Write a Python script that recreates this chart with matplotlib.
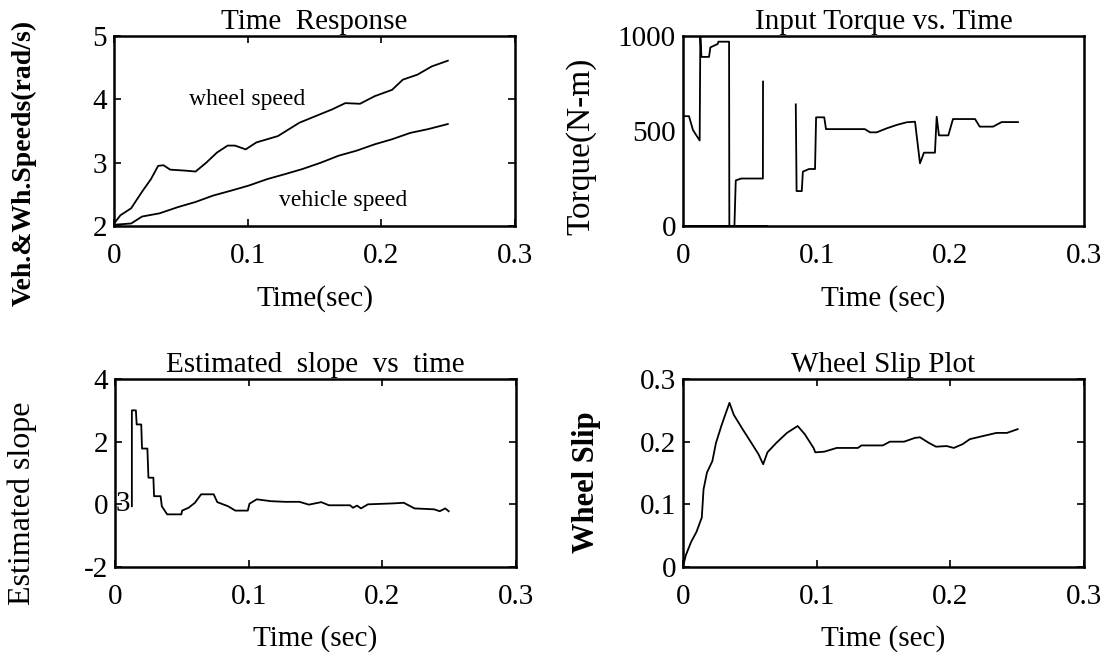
import matplotlib

matplotlib.use("Agg")

import matplotlib.pyplot as plt
import numpy as np


OUT_PATH = "out.png"
FIGSIZE = (11.06, 6.58)
DPI = 100
FONT = "Liberation Serif"
TICK_SIZE = 21
TITLE_SIZE = 21
LABEL_SIZE = 21
NOTE_SIZE = 17
LINEWIDTH = 1.3
SPINE_WIDTH = 1.8

# time response (rad/s)
wheel_t = [0.0, 0.0048, 0.0128, 0.0209, 0.0276, 0.033, 0.037, 0.042, 0.053, 0.061,
           0.069, 0.077, 0.085, 0.0905, 0.0985, 0.1065, 0.1226, 0.1386, 0.149, 0.163,
           0.173, 0.184, 0.195, 0.208, 0.216, 0.227, 0.2377, 0.2497]
wheel_speed = [2.04, 2.17, 2.28, 2.54, 2.74, 2.95, 2.96, 2.89, 2.875, 2.86,
               3.0, 3.16, 3.27, 3.27, 3.21, 3.32, 3.42, 3.63, 3.72, 3.84,
               3.94, 3.93, 4.05, 4.15, 4.31, 4.39, 4.52, 4.61]
vehicle_t = [0.0, 0.0128, 0.021, 0.034, 0.048, 0.061, 0.074, 0.0878, 0.101, 0.1145,
             0.128, 0.141, 0.1547, 0.168, 0.1815, 0.195, 0.208, 0.2216, 0.235, 0.2497]
vehicle_speed = [2.02, 2.04, 2.15, 2.2, 2.3, 2.38, 2.48, 2.56, 2.64, 2.74,
                 2.82, 2.9, 3.0, 3.11, 3.19, 3.29, 3.37, 3.47, 3.53, 3.61]

# input torque (N-m), two separate pieces plus a zero stretch
torque_a_t = [0.0, 0.0045, 0.0075, 0.0125, 0.013, 0.0138, 0.0195, 0.0205, 0.026, 0.0265,
              0.0345, 0.0347, 0.0385, 0.0395, 0.0436, 0.0598, 0.0599]
torque_a = [578, 578, 505, 450, 1000, 890, 890, 940, 958, 970,
            970, 0, 0, 240, 250, 250, 760]
torque_zero_t = [0.0, 0.0624]
torque_zero = [0, 0]
torque_b_t = [0.0844, 0.085, 0.0889, 0.0897, 0.0943, 0.0988, 0.0996, 0.1057, 0.107, 0.136,
              0.14, 0.1449, 0.1524, 0.1599, 0.1674, 0.1736, 0.1773, 0.1803, 0.1885, 0.1898,
              0.1915, 0.1985, 0.202, 0.2185, 0.222, 0.232, 0.2384, 0.2506]
torque_b = [640, 184, 184, 286, 300, 300, 572, 572, 510, 510,
            493, 493, 514, 532, 546, 549, 330, 386, 386, 575,
            477, 477, 563, 563, 523, 523, 547, 547]

# estimated slope
slope_t = [0.0126, 0.0126, 0.0156, 0.0162, 0.0196, 0.0202, 0.0242, 0.025, 0.0287, 0.0292,
           0.0341, 0.035, 0.039, 0.0496, 0.0502, 0.055, 0.0598, 0.0644, 0.0738, 0.0765,
           0.0845, 0.09, 0.0993, 0.1006, 0.106, 0.1167, 0.1275, 0.138, 0.145, 0.1543,
           0.16, 0.1758, 0.178, 0.181, 0.184, 0.1892, 0.208, 0.216, 0.224, 0.2388,
           0.2429, 0.247, 0.2496]
slope = [-0.06, 3.0, 3.0, 2.55, 2.55, 1.78, 1.78, 0.85, 0.85, 0.26,
         0.26, -0.06, -0.32, -0.32, -0.2, -0.11, 0.05, 0.32, 0.32, 0.07,
         -0.06, -0.2, -0.2, 0.02, 0.16, 0.1, 0.08, 0.08, -0.01, 0.07,
         -0.03, -0.03, -0.11, -0.04, -0.13, 0.0, 0.03, 0.05, -0.13, -0.16,
         -0.22, -0.13, -0.22]

# wheel slip
slip_t = [0.0, 0.0021, 0.0061, 0.0101, 0.0141, 0.0154, 0.018, 0.022, 0.0247, 0.0287,
          0.0313, 0.0348, 0.038, 0.0446, 0.0512, 0.0565, 0.06, 0.0632, 0.0698, 0.0778,
          0.0858, 0.0911, 0.0977, 0.099, 0.1057, 0.115, 0.1309, 0.1335, 0.1495, 0.1548,
          0.1654, 0.1735, 0.1773, 0.184, 0.1893, 0.1973, 0.2026, 0.2092, 0.2146, 0.2225,
          0.2345, 0.2424, 0.2504]
slip = [0.0, 0.0185, 0.04, 0.056, 0.079, 0.124, 0.151, 0.169, 0.198, 0.225,
        0.241, 0.262, 0.243, 0.22, 0.198, 0.18, 0.164, 0.183, 0.198, 0.214,
        0.225, 0.212, 0.19, 0.183, 0.184, 0.19, 0.19, 0.194, 0.194, 0.2,
        0.2, 0.206, 0.207, 0.198, 0.192, 0.193, 0.19, 0.196, 0.204, 0.208,
        0.214, 0.214, 0.22]

time_ticks = [0, 0.1, 0.2, 0.3]
time_tick_labels = ["0", "0.1", "0.2", "0.3"]
speed_ticks = [2, 3, 4, 5]
torque_ticks = [0, 500, 1000]
slope_ticks = [-2, 0, 2, 4]
slip_ticks = [0, 0.1, 0.2, 0.3]
slip_tick_labels = ["0", "0.1", "0.2", "0.3"]

AXES_RECTS = {
    "speed": [0.1031, 0.6565, 0.3626, 0.2888],
    "torque": [0.6175, 0.6565, 0.3626, 0.2888],
    "slope": [0.1040, 0.1383, 0.3626, 0.2857],
    "slip": [0.6175, 0.1383, 0.3626, 0.2857],
}


def style_axis(ax, title, xlabel, ylabel, ylim, yticks, ylabels, ylabel_xy,
               ylabel_size=22, ylabel_weight="normal", tick_len=5):
    ax.set_xlim(0, 0.3)
    ax.set_ylim(*ylim)
    ax.set_xticks(time_ticks)
    ax.set_xticklabels(time_tick_labels)
    ax.set_yticks(yticks)
    ax.set_yticklabels(ylabels)
    ax.tick_params(direction="in", top=True, right=True, length=tick_len,
                   width=1.2, labelsize=TICK_SIZE)
    ax.tick_params(axis="x", pad=12)
    ax.tick_params(axis="y", pad=5)
    for spine in ax.spines.values():
        spine.set_linewidth(SPINE_WIDTH)
    ax.set_title(title, fontsize=TITLE_SIZE, pad=5)
    ax.set_xlabel(xlabel, fontsize=LABEL_SIZE, va="center")
    ax.xaxis.set_label_coords(0.5, -0.38)
    ax.set_ylabel(ylabel, fontsize=ylabel_size, va="center", weight=ylabel_weight)
    ax.yaxis.set_label_coords(*ylabel_xy)


def main():
    plt.rcParams["font.family"] = [FONT, "DejaVu Serif"]
    fig = plt.figure(figsize=FIGSIZE, dpi=DPI)

    ax = fig.add_axes(AXES_RECTS["speed"])
    ax.plot(wheel_t, wheel_speed, color="black", lw=LINEWIDTH)
    ax.plot(vehicle_t, vehicle_speed, color="black", lw=LINEWIDTH)
    ax.text(0.0998, 4.0, "wheel speed", fontsize=NOTE_SIZE, ha="center", va="center")
    ax.text(0.1713, 2.41, "vehicle speed", fontsize=NOTE_SIZE, ha="center", va="center")
    style_axis(ax, "Time  Response", "Time(sec)", "Veh.&Wh.Speeds(rad/s)",
               (2, 5), speed_ticks, [str(v) for v in speed_ticks], (-0.225, 0.33),
               ylabel_size=20, ylabel_weight="bold")

    ax = fig.add_axes(AXES_RECTS["torque"])
    ax.plot(torque_a_t, torque_a, color="black", lw=LINEWIDTH)
    ax.plot(torque_zero_t, torque_zero, color="black", lw=LINEWIDTH * 1.6)
    ax.plot(torque_b_t, torque_b, color="black", lw=LINEWIDTH)
    style_axis(ax, "Input Torque vs. Time", "Time (sec)", "Torque(N-m)",
               (0, 1000), torque_ticks, [str(v) for v in torque_ticks], (-0.255, 0.42),
               ylabel_size=24, tick_len=0)

    ax = fig.add_axes(AXES_RECTS["slope"])
    ax.plot(slope_t, slope, color="black", lw=LINEWIDTH)
    ax.text(0.0059, 0.0, "3", fontsize=TICK_SIZE, ha="center", va="center")
    style_axis(ax, "Estimated  slope  vs  time", "Time (sec)", "Estimated slope",
               (-2, 4), slope_ticks, [str(v) for v in slope_ticks], (-0.231, 0.34),
               ylabel_size=23)

    ax = fig.add_axes(AXES_RECTS["slip"])
    ax.plot(slip_t, slip, color="black", lw=LINEWIDTH)
    style_axis(ax, "Wheel Slip Plot", "Time (sec)", "Wheel Slip",
               (0, 0.3), slip_ticks, slip_tick_labels, (-0.241, 0.45),
               ylabel_weight="bold")

    fig.savefig(OUT_PATH, dpi=DPI)
    plt.close(fig)


if __name__ == "__main__":
    main()
